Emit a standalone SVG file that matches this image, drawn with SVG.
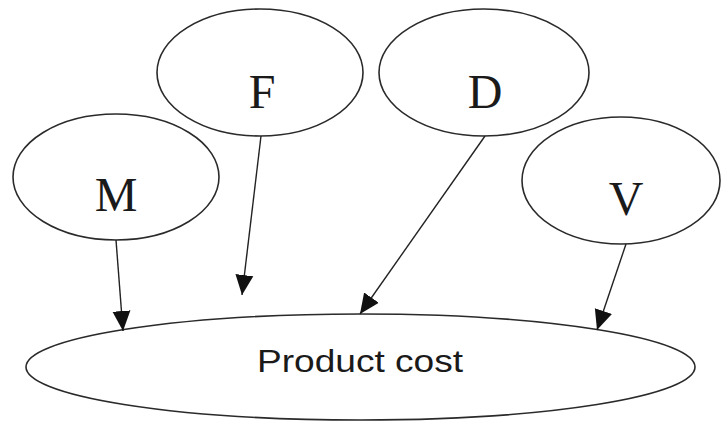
<svg xmlns="http://www.w3.org/2000/svg" width="721" height="422" viewBox="0 0 721 422">
  <style>
    .node ellipse { fill: #ffffff; stroke: #2a2a2a; stroke-width: 1.6; }
    .letter { font-family: "Liberation Serif", "Times New Roman", serif; font-size: 48px; fill: #1a1a1a; text-anchor: middle; }
    .label { font-family: "Liberation Sans", Arial, sans-serif; font-size: 32px; fill: #1a1a1a; text-anchor: middle; }
    .edge { stroke: #222222; stroke-width: 1.4; fill: none; marker-end: url(#arrow); }
  </style>
  <defs>
    <marker id="arrow" markerUnits="userSpaceOnUse" markerWidth="20" markerHeight="20" refX="20" refY="10" orient="auto">
      <path d="M0,1 L20,10 L0,19 z" fill="#111111"/>
    </marker>
  </defs>
  <rect width="721" height="422" fill="#ffffff"/>

  <g id="node-product-cost" class="node">
    <ellipse cx="360.5" cy="367" rx="334.5" ry="53"/>
    <text class="label" x="0" y="0" transform="translate(360 372) scale(1.16 1)">Product cost</text>
  </g>

  <g id="node-m" class="node">
    <ellipse cx="116" cy="177" rx="103" ry="63"/>
    <text class="letter" x="116" y="211">M</text>
  </g>

  <g id="node-f" class="node">
    <ellipse cx="260" cy="72.5" rx="103" ry="63.5"/>
    <text class="letter" x="262" y="108">F</text>
  </g>

  <g id="node-d" class="node">
    <ellipse cx="484" cy="72.5" rx="105" ry="63.5"/>
    <text class="letter" x="485" y="108">D</text>
  </g>

  <g id="node-v" class="node">
    <ellipse cx="621" cy="180.5" rx="99" ry="63.5"/>
    <text class="letter" x="626" y="215">V</text>
  </g>

  <g id="connectors">
    <line class="edge" x1="116" y1="240" x2="123" y2="331"/>
    <line class="edge" x1="261" y1="136" x2="242" y2="295"/>
    <line class="edge" x1="485" y1="136" x2="360" y2="314"/>
    <line class="edge" x1="626" y1="244" x2="597" y2="330"/>
  </g>
</svg>
